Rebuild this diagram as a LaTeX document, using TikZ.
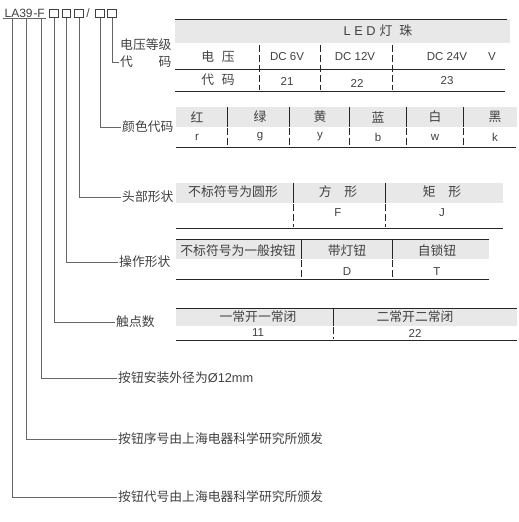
\documentclass[tikz,border=0pt]{standalone}
\usepackage{fontspec}
\setmainfont{Noto Sans CJK SC}
\newfontfamily\lat{Liberation Sans}
\usetikzlibrary{positioning}
\definecolor{rulegray}{gray}{0.15}
\definecolor{leadgray}{gray}{0.40}
\definecolor{bandgray}{gray}{0.91}
\definecolor{txtgray}{gray}{0.25}
\tikzset{
  lead/.style={draw=leadgray, line width=0.7pt},
  rulel/.style={draw=rulegray, line width=0.8pt},
  solidsep/.style={draw=rulegray, line width=0.7pt},
  dashsep/.style={draw=rulegray, line width=0.7pt, dash pattern=on 7pt off 3pt},
  band/.style={fill=bandgray},
  cell/.style={font=\fontsize{12.8}{14}\selectfont, text=txtgray, inner sep=0pt},
  latcell/.style={cell, font=\fontsize{11.5}{14}\lat},
  lbl/.style={cell, anchor=west, inner sep=1pt},
  code/.style={font=\fontsize{12}{13}\lat, text=txtgray, inner sep=1pt, anchor=base},
  sq/.style={draw=txtgray, line width=0.6pt, minimum width=8.5pt,
             minimum height=8pt, inner sep=0pt},
}

\begin{document}
\begin{tikzpicture}[x=1pt, y=-1pt]
  \useasboundingbox (0,0) rectangle (519,522);
  % model code
  \node[code] (la) at (12,17) {LA};
  \node[code] (num) at (26,17) {39};
  \node[code] (hy) at (35.5,17) {-};
  \node[code] (ff) at (41,17) {F};
  \node[sq] (b1) at (54,13.5) {};
  \node[sq] (b2) at (66.5,13.5) {};
  \node[sq] (b3) at (79,13.5) {};
  \node[code] (slash) at (88,17) {/};
  \node[sq] (b4) at (100,13.5) {};
  \node[sq] (b5) at (112,13.5) {};
  \draw[lead] (la.south west) -- (ff.south east);

  % labels
  \node[lbl] (voltA) at (119,45) {电压等级};
  \node[lbl] (voltB) at (119,62) {\makebox[4em][s]{代\hfill 码}};
  \node[lbl] (color) at (121,127) {颜色代码};
  \node[lbl] (head) at (121,197) {头部形状};
  \node[lbl] (oper) at (118,262) {操作形状};
  \node[lbl] (cont) at (115,322) {触点数};
  \node[lbl] (dia) at (117,378) {按钮安装外径为{\lat Ø12mm}};
  \node[lbl] (serial) at (117,439) {按钮序号由上海电器科学研究所颁发};
  \node[lbl] (ident) at (117,497) {按钮代号由上海电器科学研究所颁发};

  % leaders
  \draw[lead] (b5.south) |- (voltB.west);
  \draw[lead] (b4.south) |- (color.west);
  \draw[lead] (b3.south) |- (head.west);
  \draw[lead] (b2.south) |- (oper.west);
  \draw[lead] (b1.south) |- (cont.west);
  \draw[lead] (ff.south) |- (dia.west);
  \draw[lead] (num.south) |- (serial.west);
  \draw[lead] (la.south) |- (ident.west);

  % LED table
  \fill[band] (175,19) rectangle (510,43);
  \draw[rulel] (175,19) -- (507,19);
  \node[cell] (led) at (378,31) {{\lat L E D}\hspace{4pt}灯\hspace{7pt}珠};
  \node[cell] (voltHd) at (218,57) {电\hspace{0.6em}压};
  \node[latcell] (v6) at (287,57) {DC 6V};
  \node[latcell] (v12) at (355,57) {DC 12V};
  \node[latcell] (v24) at (447,57) {DC 24V};
  \node[latcell] (vv) at (492,57) {V};
  \draw[rulel] (175,69) -- (505,69);
  \node[cell] (codeHd) at (218,80) {代\hspace{0.6em}码};
  \node[latcell] (c21) at (287,81) {21};
  \node[latcell] (c22) at (357,83) {22};
  \node[latcell] (c23) at (447,81) {23};
  \draw[rulel] (175,91) -- (505,91);
  \draw[dashsep] (259,45) -- (259,90);
  \draw[dashsep] (320,45) -- (320,90);
  \draw[dashsep] (392,45) -- (392,90);

  % colour table
  \fill[band] (176,107) rectangle (517,127);
  \node[cell] (red) at (197,117) {红};
  \node[cell] (green) at (260,117) {绿};
  \node[cell] (yellow) at (320,117) {黄};
  \node[cell] (blue) at (378,117) {蓝};
  \node[cell] (white) at (435,117) {白};
  \node[cell] (black) at (495,117) {黑};
  \node[latcell] (cr) at (197,137) {r};
  \node[latcell] (cg) at (260,137) {g};
  \node[latcell] (cy) at (320,137) {y};
  \node[latcell] (cb) at (378,137) {b};
  \node[latcell] (cw) at (435,137) {w};
  \node[latcell] (ck) at (495,137) {k};
  \draw[solidsep] (227,107) -- (227,127);
  \draw[solidsep] (289,107) -- (289,127);
  \draw[solidsep] (349,107) -- (349,127);
  \draw[solidsep] (406,107) -- (406,127);
  \draw[solidsep] (463,107) -- (463,127);
  \draw[dashsep] (227,128) -- (227,146);
  \draw[dashsep] (289,128) -- (289,146);
  \draw[dashsep] (349,128) -- (349,146);
  \draw[dashsep] (406,128) -- (406,146);
  \draw[dashsep] (463,128) -- (463,146);
  \draw[rulel] (176,147) -- (516,147);

  % head shape table
  \fill[band] (176,183) rectangle (503,203);
  \node[cell] (round) at (233,192) {不标符号为圆形};
  \node[cell] (square) at (338,192) {方\hspace{1em}形};
  \node[cell] (rect) at (442,192) {矩\hspace{1em}形};
  \node[latcell] (hf) at (338,213) {F};
  \node[latcell] (hj) at (442,213) {J};
  \draw[solidsep] (293,183) -- (293,203);
  \draw[solidsep] (385,183) -- (385,203);
  \draw[dashsep] (293,204) -- (293,227);
  \draw[dashsep] (385,204) -- (385,227);
  \draw[rulel] (176,228) -- (503,228);

  % operation table
  \fill[band] (176,239) rectangle (489,259);
  \draw[solidsep] (176,239) -- (489,239);
  \node[cell] (plain) at (238,251) {不标符号为一般按钮};
  \node[cell] (lamp) at (347,251) {带灯钮};
  \node[cell] (lock) at (437,251) {自锁钮};
  \node[latcell] (od) at (347,272) {D};
  \node[latcell] (ot) at (437,272) {T};
  \draw[solidsep] (301,239) -- (301,259);
  \draw[solidsep] (392,239) -- (392,259);
  \draw[dashsep] (301,260) -- (301,278);
  \draw[dashsep] (392,260) -- (392,278);
  \draw[rulel] (176,279) -- (489,279);

  % contacts table
  \fill[band] (176,308) rectangle (517,326);
  \draw[solidsep] (176,308) -- (517,308);
  \node[cell] (one) at (258,317) {一常开一常闭};
  \node[cell] (two) at (415,317) {二常开二常闭};
  \node[latcell] (n11) at (258,333) {11};
  \node[latcell] (n22) at (415,333) {22};
  \draw[solidsep] (333,308) -- (333,326);
  \draw[dashsep] (333,327) -- (333,339);
  \draw[rulel] (176,340) -- (517,340);
\end{tikzpicture}
\end{document}
